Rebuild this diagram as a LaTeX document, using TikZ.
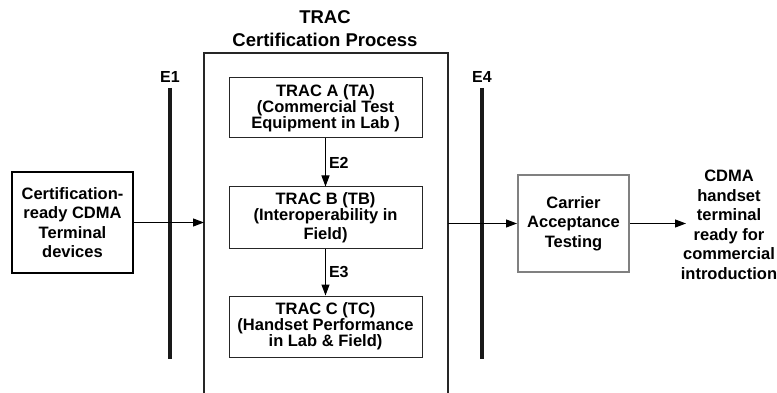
\documentclass[tikz,border=0pt]{standalone}
\usepackage{fontspec}
\setmainfont{Liberation Sans}
\usetikzlibrary{arrows.meta}
\begin{document}
\begin{tikzpicture}[x=1pt,y=-1pt,
  every node/.style={font=\bfseries},
  txt/.style={align=center,font=\bfseries\fontsize{16.5}{19.5}\selectfont},
  inbox/.style={draw=black!85,line width=1pt,minimum width=193pt,align=center,inner sep=0pt,
     font=\bfseries\fontsize{16.5}{15.8}\selectfont},
  bar/.style={line width=4pt,black!90},
  arr/.style={line width=1pt,-{Triangle[length=11pt,width=8pt]}},
  lbl/.style={font=\bfseries\fontsize{16}{18}\selectfont}]
\useasboundingbox (0,0) rectangle (777,393);
% title
\node[align=center,font=\bfseries\fontsize{18.5}{23}\selectfont] (title) at (325,29) {TRAC\\Certification Process};
% frame
\coordinate (ftl) at (204,53);
\coordinate (ftr) at (448,53);
\coordinate (fbl) at (204,394);
\coordinate (fbr) at (448,394);
\draw[line width=2pt,black!85] (fbl) -- (ftl) -- (ftr) -- (fbr);
% bars
\coordinate (e1t) at (170,88); \coordinate (e1b) at (170,359);
\coordinate (e4t) at (482,88); \coordinate (e4b) at (482,359);
\draw[bar] (e1t) -- (e1b);
\draw[bar] (e4t) -- (e4b);
\node[lbl] (e1) at (170,77) {E1};
\node[lbl] (e4) at (482,77) {E4};
% inner boxes
\node[inbox,minimum height=60pt] (ta) at (325.5,108) {TRAC A (TA)\\(Commercial Test\\Equipment in Lab )};
\node[inbox,minimum height=61pt] (tb) at (325.5,217.5) {TRAC B (TB)\\(Interoperability in\\[3pt]Field)};
\node[inbox,minimum height=61pt] (tc) at (325.5,326.5) {TRAC C (TC)\\(Handset Performance\\in Lab \& Field)};
\draw[arr] (ta) -- (tb) node[midway,right,lbl,inner sep=3pt] (e2) {E2};
\draw[arr] (tb) -- (tc) node[midway,right,lbl,inner sep=3pt] (e3) {E3};
% left box
\node[txt,draw=black,line width=2pt,minimum width=121pt,minimum height=100pt,inner sep=0pt] (lb) at (72.5,222.5)
  {Certification-\\ready CDMA\\Terminal\\devices};
\draw[arr] (lb.east) -- (lb.east -| ftl);
% carrier box
\node[txt,draw=black!50,line width=2pt,minimum width=111pt,minimum height=97pt,inner sep=0pt] (cb) at (573.5,223.5)
  {Carrier\\Acceptance\\Testing};
\draw[arr] (cb.west -| ftr) -- (cb.west);
% right text
\node[txt,inner sep=0pt] (out) at (729,225)
  {CDMA\\handset\\terminal\\ready for\\commercial\\introduction};
\coordinate (oute) at (686,223.5);
\draw[arr] (cb.east) -- (oute);
\end{tikzpicture}
\end{document}
